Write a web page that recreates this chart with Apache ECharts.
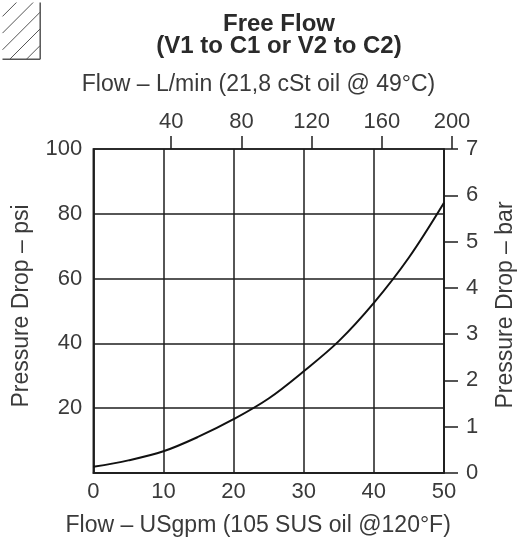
<!DOCTYPE html>
<html>
<head>
<meta charset="utf-8">
<script src="https://cdn.jsdelivr.net/npm/echarts@6/dist/echarts.min.js"></script>
<style>
  html, body { margin: 0; padding: 0; background: #fff; }
  #chart { width: 524px; height: 539px; }
</style>
</head>
<body>
<div id="chart"></div>
<script>
// Free-flow pressure drop curve (flow in USgpm vs. pressure drop in psi)
const flowGpm = [0, 5, 10, 15, 20, 25, 30, 35, 40, 45, 50];
const dropPsi = [1.9, 3.9, 6.7, 11.2, 16.6, 23.0, 31.4, 40.7, 52.5, 66.5, 83.4];

// Axis tick values
const psiTicks = { min: 0, max: 100, step: 20 };
const barTicks = { min: 0, max: 7, step: 1 };
const gpmTicks = { min: 0, max: 50, step: 10 };
const lpmTicks = [40, 80, 120, 160, 200];

const titleText = 'Free Flow\n(V1 to C1 or V2 to C2)';
const bottomName = 'Flow – USgpm (105 SUS oil @120°F)';
const topName = 'Flow – L/min (21,8 cSt oil @ 49°C)';
const leftName = 'Pressure Drop – psi';
const rightName = 'Pressure Drop – bar';

const FONT = 'Liberation Sans, Arial, sans-serif';
const INK = '#1e1e1e';
const TXT = '#3a3a3a';
const FS = 22;   // tick labels
const NFS = 23;  // axis names

// hatched corner box
const box = { w: 37.7, h: 56.7, step: 16.7, k0: 13.9 };
const hatch = [];
for (let k = box.k0; k < box.w + box.h; k += box.step) {
  // line x + y = k, clipped to the box
  const x1 = Math.max(0, k - box.h), y1 = k - x1;
  const x2 = Math.min(box.w, k), y2 = k - x2;
  hatch.push({
    type: 'line',
    shape: { x1: x1, y1: y1, x2: x2, y2: y2 },
    style: { stroke: '#555', lineWidth: 1 }
  });
}

const chart = echarts.init(document.getElementById('chart'), null, { renderer: 'canvas' });

chart.setOption({
  backgroundColor: '#fff',
  animation: false,
  title: {
    text: titleText,
    left: 274,
    top: 8,
    textAlign: 'center',
    textStyle: {
      fontFamily: FONT, fontSize: 24, fontWeight: 'bold', color: '#2a2a2a',
      lineHeight: 22
    }
  },
  graphic: [
    { type: 'group', left: 0, top: 0, children: hatch.concat([
      { type: 'line', shape: { x1: box.w, y1: 0, x2: box.w, y2: box.h }, style: { stroke: '#555', lineWidth: 1.5 } },
      { type: 'line', shape: { x1: 0, y1: box.h, x2: box.w, y2: box.h }, style: { stroke: '#555', lineWidth: 1.5 } }
    ]) }
  ],
  grid: [
    { left: 93.3, right: 80, top: 149, bottom: 66, show: true,
      borderColor: INK, borderWidth: 1.5, backgroundColor: 'transparent',
      outerBoundsMode: 'none', containLabel: false },
    { left: 101, right: 72, top: 149, bottom: 66, show: false,
      outerBoundsMode: 'none', containLabel: false }
  ],
  xAxis: [
    {
      gridIndex: 0, type: 'value', position: 'bottom',
      min: gpmTicks.min, max: gpmTicks.max, interval: gpmTicks.step,
      axisLine: { show: true, lineStyle: { color: INK, width: 1.5 } },
      axisTick: { show: false },
      splitLine: { show: true, lineStyle: { color: INK, width: 1.5 } },
      axisLabel: { fontFamily: FONT, fontSize: FS, color: TXT, margin: 8 },
      name: bottomName, nameLocation: 'middle', nameGap: 41,
      nameTextStyle: { fontFamily: FONT, fontSize: NFS, color: TXT, padding: [0, 21, 0, 0] }
    },
    {
      gridIndex: 1, type: 'value', position: 'top',
      min: 0, max: 200,
      axisLine: { show: false, onZero: false },
      axisTick: { show: true, inside: false, length: 13, customValues: lpmTicks,
        lineStyle: { color: INK, width: 1.5 } },
      splitLine: { show: false },
      axisLabel: { customValues: lpmTicks, fontFamily: FONT, fontSize: FS, color: TXT, margin: 16 },
      name: topName, nameLocation: 'middle', nameGap: 53,
      nameTextStyle: { fontFamily: FONT, fontSize: NFS, color: TXT, padding: [0, 36, 0, 0] }
    }
  ],
  yAxis: [
    {
      gridIndex: 0, type: 'value', position: 'left',
      min: psiTicks.min, max: psiTicks.max, interval: psiTicks.step,
      axisLine: { show: true, lineStyle: { color: INK, width: 1.5 } },
      axisTick: { show: false },
      splitLine: { show: true, lineStyle: { color: INK, width: 1.5 } },
      axisLabel: { fontFamily: FONT, fontSize: FS, color: TXT, margin: 11,
        formatter: v => (v === 0 ? '' : String(v)) },
      name: leftName, nameLocation: 'middle', nameGap: 60,
      nameTextStyle: { fontFamily: FONT, fontSize: NFS, color: TXT, padding: [0, 0, 0, 10] }
    },
    {
      gridIndex: 0, type: 'value', position: 'right',
      min: barTicks.min, max: barTicks.max, interval: barTicks.step,
      axisLine: { show: true, lineStyle: { color: INK, width: 1.5 } },
      axisTick: { show: true, inside: false, length: 14, lineStyle: { color: INK, width: 1.5 } },
      splitLine: { show: false },
      axisLabel: { fontFamily: FONT, fontSize: FS, color: TXT, margin: 22 },
      name: rightName, nameLocation: 'middle', nameGap: 50,
      nameTextStyle: { fontFamily: FONT, fontSize: NFS, color: TXT, padding: [0, 0, 0, 12] }
    },
    { gridIndex: 1, type: 'value', show: false, min: 0, max: 1 }
  ],
  series: [
    {
      type: 'line',
      xAxisIndex: 0, yAxisIndex: 0,
      data: flowGpm.map((g, i) => [g, dropPsi[i]]),
      smooth: 0.35,
      showSymbol: false,
      lineStyle: { color: '#111', width: 2 },
      clip: false
    }
  ]
});
</script>
</body>
</html>
